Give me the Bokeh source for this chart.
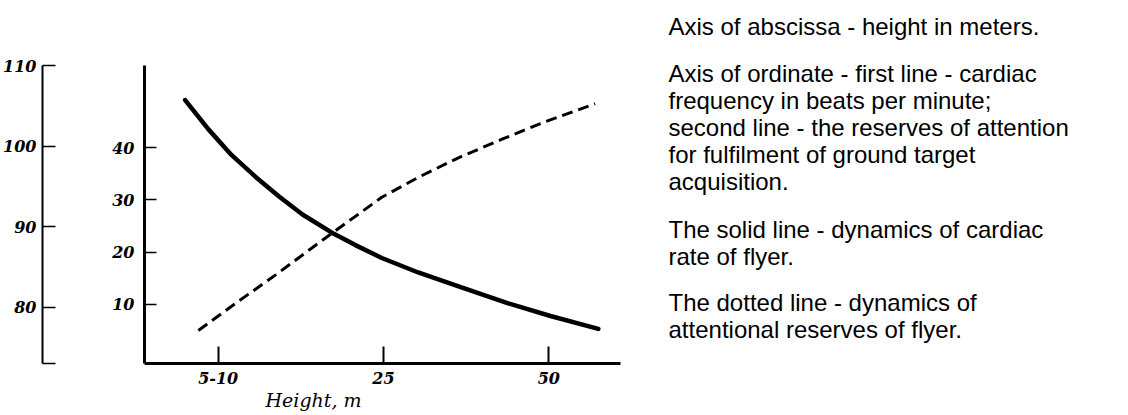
from bokeh.plotting import figure
from bokeh.models import Range1d, LinearAxis, FixedTicker, Label, Title
from bokeh.layouts import row
from bokeh.embed import file_html
from bokeh.resources import INLINE

# ---- data ----
x_ticks = [1, 2, 3]
x_tick_labels = ["5-10", "25", "50"]
hr_ticks = [80, 90, 100, 110]          # outer axis: cardiac frequency, beats/min
att_ticks = [10, 20, 30, 40]           # inner axis: reserves of attention

# solid line: cardiac rate (outer axis)
hr_x = [0.80, 0.94, 1.08, 1.23, 1.37, 1.51, 1.70, 1.83, 1.99, 2.21, 2.45, 2.75, 3.01, 3.30]
hr_y = [105.7, 102.1, 98.9, 96.1, 93.7, 91.5, 89.1, 87.7, 86.1, 84.3, 82.6, 80.5, 78.9, 77.3]

# dashed line: attentional reserves (inner axis)
att_x = [0.88, 1.10, 1.35, 1.55, 1.70, 1.85, 1.99, 2.21, 2.45, 2.71, 2.95, 3.28]
att_y = [5.0, 10.1, 15.7, 20.4, 23.9, 27.3, 30.5, 34.3, 38.0, 41.5, 44.6, 48.4]

notes = [
    "Axis of abscissa - height in meters.",
    "Axis of ordinate - first line - cardiac",
    "frequency in beats per minute;",
    "second line - the reserves of attention",
    "for fulfilment of ground target",
    "acquisition.",
    "The solid line - dynamics of cardiac",
    "rate of flyer.",
    "The dotted line - dynamics of",
    "attentional reserves of flyer.",
]
note_baselines = [26, 73, 100, 127, 154, 181, 229, 256, 302, 329]

TICK_FONT = "DejaVu Serif"
H = 413

p = figure(width=640, height=H,
           x_range=Range1d(0.554, 3.434), y_range=Range1d(-1.3, 55.7),
           output_backend="svg", toolbar_location=None,
           min_border_left=142, min_border_right=20,
           min_border_top=65, min_border_bottom=H - 65 - 298)
p.frame_align = False
p.xgrid.visible = False
p.ygrid.visible = False
p.outline_line_color = None
p.background_fill_color = "white"
p.border_fill_color = "white"

p.extra_y_ranges = {"hr": Range1d(73, 110)}

def style_axis(ax, tick_in, line_w, standoff):
    ax.major_tick_in = tick_in
    ax.major_tick_out = 0
    ax.minor_tick_in = 0
    ax.minor_tick_out = 0
    ax.axis_line_width = line_w
    ax.axis_line_color = "black"
    ax.major_tick_line_color = "black"
    ax.major_tick_line_width = 1.5
    ax.major_label_standoff = standoff
    ax.major_label_text_font = TICK_FONT
    ax.major_label_text_font_style = "bold italic"
    ax.major_label_text_font_size = "16px"
    ax.major_label_text_color = "black"

inner = p.yaxis[0]
inner.ticker = FixedTicker(ticks=att_ticks)
style_axis(inner, 12, 3, 10)
inner.axis_label = " "
inner.axis_label_text_font_size = "1px"
inner.axis_label_standoff = 63

outer = LinearAxis(y_range_name="hr")
outer.ticker = FixedTicker(ticks=[73] + hr_ticks)
outer.major_label_overrides = {73: ""}
style_axis(outer, 13, 2, 6)
p.add_layout(outer, "left")

xa = p.xaxis[0]
xa.ticker = FixedTicker(ticks=x_ticks)
xa.major_label_overrides = {t: s for t, s in zip(x_ticks, x_tick_labels)}
style_axis(xa, 17, 3, 8)
xa.major_tick_line_width = 2

p.line(hr_x, hr_y, y_range_name="hr", line_width=4.5, line_color="black",
       line_join="round", line_cap="round")
p.line(att_x, att_y, line_width=3, line_color="black", line_dash="11 6",
       line_join="round")

p.add_layout(Title(text="Height, m", align="left", offset=121, standoff=0,
                   text_font=TICK_FONT, text_font_style="italic",
                   text_font_size="19px", text_color="black"), "below")

t = figure(width=1128 - 640, height=H, x_range=Range1d(0, 1128 - 640),
           y_range=Range1d(H, 0), output_backend="svg", toolbar_location=None,
           x_axis_type=None, y_axis_type=None,
           min_border_left=0, min_border_right=0, min_border_top=0, min_border_bottom=0)
t.frame_align = False
t.xgrid.visible = False
t.ygrid.visible = False
t.outline_line_color = None
for line, yb in zip(notes, note_baselines):
    t.add_layout(Label(x=28, y=yb, text=line, text_font="Liberation Sans",
                       text_font_size="24px", text_baseline="alphabetic",
                       text_color="black"))

layout = row(p, t)
open("out.html", "w").write(file_html(layout, INLINE))
